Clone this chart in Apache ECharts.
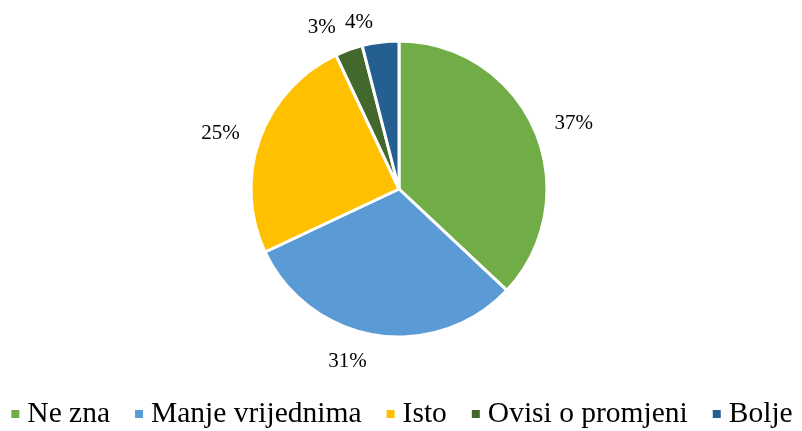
<!DOCTYPE html>
<html>
<head>
<meta charset="utf-8">
<script src="https://cdn.jsdelivr.net/npm/echarts@6/dist/echarts.min.js"></script>
<style>
  html, body { margin: 0; padding: 0; background: #fff; }
  #chart { width: 802px; height: 431px; }
</style>
</head>
<body>
<div id="chart"></div>
<script>
// Share of answers, in percent, clockwise from twelve o'clock
const categories = ['Ne zna', 'Manje vrijednima', 'Isto', 'Ovisi o promjeni', 'Bolje'];
const values = [37, 31, 25, 3, 4];
const colors = ['#70AD47', '#5B9BD5', '#FFC000', '#43682B', '#255E91'];

const chart = echarts.init(document.getElementById('chart'));
const font = 'Liberation Serif';

// distance of each percentage label from the rim
const labelOffset = { 'Manje vrijednima': 27, 'Ovisi o promjeni': 24, 'Bolje': 20 };

chart.setOption({
  animation: false,
  color: colors,
  textStyle: { fontFamily: font, color: '#000' },
  legend: {
    bottom: -3,
    left: 'center',
    icon: 'rect',
    itemWidth: 10,
    itemHeight: 10,
    itemGap: 23,
    formatter: '{t|{name}}',
    textStyle: {
      fontFamily: font, fontSize: 29.5, color: '#000',
      rich: { t: { fontFamily: font, fontSize: 29.5, color: '#000', padding: [0, 0, 0, 2] } }
    },
    data: categories
  },
  series: [{
    type: 'pie',
    center: [399, 189],
    radius: 148,
    startAngle: 90,
    clockwise: true,
    avoidLabelOverlap: false,
    itemStyle: { borderColor: '#fff', borderWidth: 3 },
    label: {
      show: true,
      position: 'outside',
      formatter: p => p.value + '%',
      fontFamily: font,
      fontSize: 21,
      color: '#000'
    },
    labelLine: { show: false, length: 16, length2: 0 },
    data: categories.map((name, i) => ({
      name,
      value: values[i],
      labelLine: { show: false, length: labelOffset[name] || 16, length2: 0 }
    }))
  }]
});
</script>
</body>
</html>
